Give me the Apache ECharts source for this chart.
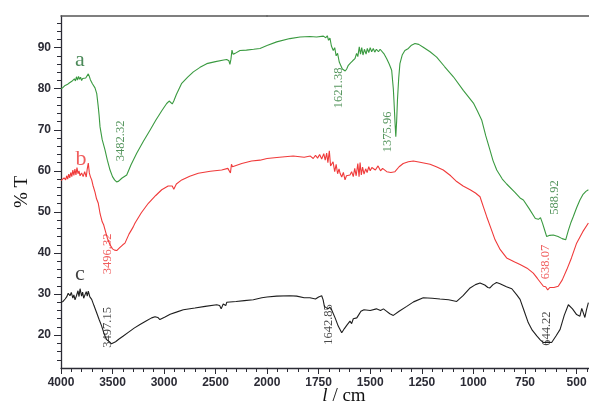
<!DOCTYPE html>
<html><head><meta charset="utf-8">
<script src="https://cdn.jsdelivr.net/npm/echarts@6/dist/echarts.min.js"></script>
<style>html,body{margin:0;padding:0;background:#fff}#c{width:589px;height:406px}</style>
</head><body><div id="c"></div>
<script>
// ---- data ----
const xTicksHigh = [4000, 3500, 3000, 2500, 2000];
const xTicksLow = [1750, 1500, 1250, 1000, 750, 500];
const yTicks = [20, 30, 40, 50, 60, 70, 80, 90];

const seriesA = [[4000,80.0],[3980,80.3],[3960,80.8],[3940,81.0],[3920,81.4],[3905,81.2],[3895,81.8],[3885,81.5],[3870,82.4],[3860,81.9],[3850,82.9],[3840,82.1],[3830,83.0],[3820,82.3],[3810,82.8],[3800,82.0],[3790,82.5],[3775,82.2],[3760,82.6],[3745,82.9],[3735,83.6],[3725,83.0],[3715,82.2],[3705,82.4],[3695,81.2],[3686,81.3],[3670,80.2],[3653,78.8],[3640,76.0],[3630,73.5],[3621,70.7],[3600,67.6],[3573,65.1],[3550,62.6],[3524,60.2],[3500,58.6],[3480,57.8],[3460,57.3],[3440,57.5],[3410,58.2],[3362,59.0],[3320,61.5],[3265,64.3],[3200,67.2],[3136,69.9],[3080,72.3],[3020,74.7],[2974,76.4],[2950,77.0],[2935,76.6],[2920,76.3],[2905,77.0],[2880,78.6],[2828,81.3],[2770,82.8],[2715,84.1],[2650,85.2],[2585,86.1],[2500,86.6],[2420,87.0],[2391,87.1],[2370,86.8],[2360,85.9],[2350,87.2],[2340,89.4],[2330,88.4],[2310,88.6],[2262,89.3],[2200,89.4],[2130,89.6],[2068,89.8],[2000,90.5],[1953,91.4],[1889,92.2],[1840,92.6],[1792,92.7],[1760,92.6],[1727,92.8],[1715,92.4],[1708,92.9],[1702,91.8],[1695,92.3],[1688,90.4],[1679,89.3],[1672,90.0],[1665,88.0],[1658,88.6],[1650,86.5],[1642,86.9],[1635,84.8],[1628,85.2],[1621,84.3],[1614,84.8],[1606,85.7],[1595,86.3],[1585,86.8],[1574,87.3],[1566,88.6],[1560,87.8],[1553,90.2],[1547,88.4],[1541,90.0],[1535,88.2],[1528,89.6],[1520,88.4],[1514,89.8],[1507,88.8],[1500,90.0],[1493,89.0],[1485,89.8],[1478,88.9],[1470,89.6],[1460,89.0],[1452,89.6],[1444,89.2],[1432,88.4],[1420,87.3],[1408,86.0],[1396,84.5],[1388,80.0],[1385,77.2],[1380,72.0],[1376,68.3],[1372,72.0],[1368,77.2],[1362,82.5],[1356,86.1],[1345,88.2],[1332,89.3],[1315,89.8],[1300,90.6],[1283,91.0],[1265,90.8],[1243,90.1],[1210,89.0],[1178,87.7],[1140,85.4],[1097,82.9],[1049,79.6],[1000,76.5],[980,74.5],[960,72.4],[940,68.5],[920,65.1],[905,62.5],[887,60.2],[860,58.0],[839,56.8],[800,54.8],[774,53.4],[758,52.9],[730,50.8],[700,48.4],[685,48.2],[675,48.6],[665,47.2],[655,45.6],[645,44.0],[630,44.3],[613,44.4],[590,44.0],[570,43.5],[553,43.2],[540,45.5],[527,47.5],[516,48.9],[500,51.0],[484,52.9],[470,54.2],[455,55.0],[443,55.4]];

const seriesB = [[4000,57.6],[3985,57.9],[3970,58.3],[3955,57.8],[3945,58.8],[3935,58.0],[3925,59.2],[3915,58.3],[3905,59.6],[3895,58.6],[3885,60.2],[3875,58.9],[3865,60.4],[3855,59.0],[3845,60.8],[3835,59.3],[3825,60.0],[3815,58.8],[3800,59.5],[3785,58.6],[3770,59.8],[3755,58.5],[3745,60.5],[3735,61.9],[3725,59.5],[3715,58.6],[3702,57.8],[3690,56.5],[3670,54.8],[3655,53.2],[3638,52.1],[3620,49.5],[3600,47.6],[3585,46.8],[3573,45.7],[3550,43.6],[3524,42.0],[3500,41.0],[3480,40.7],[3459,40.6],[3430,41.3],[3400,42.0],[3379,42.4],[3340,44.6],[3300,46.3],[3281,47.3],[3220,49.8],[3152,52.1],[3080,54.0],[3022,55.4],[2960,56.3],[2920,56.3],[2905,55.5],[2895,55.9],[2880,56.8],[2828,57.8],[2750,58.7],[2667,59.4],[2550,59.9],[2440,60.2],[2380,60.6],[2365,60.3],[2355,59.5],[2345,61.6],[2335,61.0],[2320,61.4],[2245,61.8],[2150,62.4],[2068,62.6],[2000,63.0],[1940,63.3],[1873,63.6],[1820,63.3],[1790,63.6],[1776,63.0],[1765,63.8],[1755,63.1],[1745,64.0],[1735,62.9],[1725,64.2],[1718,62.6],[1711,64.3],[1705,62.0],[1698,64.9],[1692,61.2],[1687,61.0],[1680,62.2],[1672,59.8],[1665,61.6],[1658,59.3],[1651,60.5],[1646,59.4],[1638,58.5],[1630,59.6],[1622,57.8],[1615,58.8],[1606,58.4],[1598,59.0],[1590,59.8],[1582,58.6],[1575,60.6],[1568,58.8],[1560,61.8],[1554,58.6],[1549,62.0],[1543,59.0],[1537,60.9],[1530,59.2],[1522,60.5],[1515,59.6],[1507,61.0],[1500,60.0],[1492,60.8],[1485,60.6],[1475,60.2],[1462,61.2],[1450,60.0],[1440,60.6],[1420,59.8],[1400,59.6],[1380,59.8],[1360,61.0],[1340,61.8],[1315,62.2],[1291,62.4],[1259,62.1],[1210,61.6],[1180,61.0],[1146,60.2],[1110,58.8],[1081,57.4],[1050,56.3],[1016,55.4],[990,54.6],[968,53.7],[950,51.0],[936,48.9],[915,46.0],[895,43.2],[870,40.8],[839,38.8],[800,37.8],[774,37.2],[740,36.3],[710,35.1],[690,33.8],[661,31.9],[650,31.8],[640,31.0],[630,31.6],[610,31.6],[589,31.9],[570,33.4],[548,35.9],[525,38.8],[500,42.4],[470,45.2],[443,47.3]];

const seriesC = [[4000,28.0],[3980,28.2],[3960,28.8],[3945,29.3],[3930,30.2],[3913,29.6],[3900,30.4],[3885,29.0],[3875,29.8],[3864,28.6],[3850,29.6],[3835,30.8],[3825,29.4],[3815,31.3],[3800,29.5],[3790,30.5],[3780,29.0],[3767,28.8],[3755,30.6],[3745,29.5],[3735,30.7],[3720,29.3],[3702,28.7],[3680,27.2],[3653,25.4],[3630,23.8],[3605,22.2],[3585,20.6],[3570,19.6],[3556,18.9],[3530,18.4],[3510,17.9],[3492,18.2],[3470,18.4],[3440,19.0],[3395,19.8],[3340,20.8],[3290,21.7],[3233,22.6],[3170,23.5],[3120,24.2],[3087,24.5],[3060,24.3],[3040,23.8],[3022,23.8],[2990,24.4],[2940,25.1],[2880,25.6],[2812,26.2],[2700,26.6],[2600,27.0],[2488,27.4],[2460,27.2],[2445,26.4],[2435,26.6],[2425,27.6],[2410,27.8],[2400,27.2],[2391,28.0],[2300,28.2],[2220,28.4],[2133,28.6],[2050,29.1],[2000,29.3],[1953,29.5],[1889,29.6],[1856,29.5],[1820,29.1],[1792,29.1],[1765,28.8],[1750,29.3],[1735,29.6],[1728,28.6],[1722,27.0],[1715,26.8],[1705,26.4],[1695,26.8],[1687,26.2],[1670,24.2],[1655,22.2],[1638,20.6],[1625,21.6],[1612,22.5],[1604,22.4],[1598,23.4],[1590,22.8],[1582,24.0],[1574,23.6],[1565,24.2],[1555,25.0],[1545,25.8],[1530,26.2],[1500,26.0],[1470,26.4],[1450,26.0],[1436,26.4],[1420,25.8],[1405,25.2],[1388,24.8],[1360,25.8],[1323,27.0],[1290,28.1],[1243,29.1],[1200,29.0],[1162,28.8],[1120,28.6],[1081,28.2],[1050,29.6],[1016,31.5],[990,32.3],[968,32.7],[945,32.2],[930,31.6],[920,31.5],[905,32.3],[888,32.8],[871,32.5],[840,31.8],[814,31.3],[790,29.8],[774,28.7],[755,26.0],[734,23.0],[715,21.2],[693,19.8],[675,18.8],[661,18.2],[640,18.3],[621,18.2],[600,19.8],[580,21.4],[560,24.8],[540,27.4],[520,26.4],[500,25.0],[484,24.6],[475,26.5],[468,26.5],[460,24.3],[452,26.2],[443,27.9]];

// peak annotations: [text, wavenumber, %T]
const peaksA = [["3482.32",3420,67.3],["1621.38",1651,80.2],["1375.96",1415,69.5],["588.92",605,53.5]];
const peaksB = [["3496.32",3550,39.8],["638.07",648,37.8]];
const peaksC = [["3497.15",3550,21.9],["1642.85",1703,22.6],["644.22",645,21.6]];
// curve letters: [text, wavenumber, %T]
const curveNames = [["a",3816,86.9],["b",3806,62.9],["c",3816,34.9]];

// ---- styling ----
const COL = {a:'#3a9a40', b:'#f03a3a', c:'#1e1e1e'};
const TXT = {a:'#2a7a35', b:'#ec3434', c:'#1a1a1a'};
const NAMECOL = ['#1e6b30', '#ec3434', '#111'];
const BREAK = 2000, XMIN = 440, XMAX = 4000, YMIN = 12, YMAX = 97.7;
const AX = '#2b2b35';

function split(d, hi) {
  const out = [];
  for (let i = 0; i < d.length; i++) {
    const w = d[i][0];
    const inside = hi ? w >= BREAK : w <= BREAK;
    const nb = hi ? (i > 0 && d[i-1][0] > BREAK) : (i < d.length-1 && d[i+1][0] < BREAK);
    if (inside || nb) out.push(d[i]);
  }
  return out;
}
const minorHigh = [], minorLow = [], minorY = [];
for (let v = 2100; v < 4000; v += 100) if (v % 500) minorHigh.push(v);
for (let v = 450; v < 2000; v += 50) if (v % 250) minorLow.push(v);
for (let v = 14; v < 97; v += 2) if (v % 10) minorY.push(v);

const labelFont = {fontFamily:'Liberation Sans', fontWeight:'bold', fontSize:12, color:AX,
  formatter:(v) => String(v)};
function majorX(grid, min, max, ticks) {
  return {gridIndex:grid, type:'value', min:min, max:max, inverse:true, position:'bottom',
    axisLine:{show:true, onZero:false, lineStyle:{color:AX, width:1.3}},
    axisTick:{show:true, inside:false, length:6, customValues:ticks, lineStyle:{color:AX, width:1}},
    axisLabel:Object.assign({show:true, margin:9, customValues:ticks}, labelFont),
    splitLine:{show:false}};
}
function minorX(grid, min, max, ticks) {
  return {gridIndex:grid, type:'value', min:min, max:max, inverse:true, position:'bottom',
    axisLine:{show:false, onZero:false}, axisLabel:{show:false}, splitLine:{show:false},
    axisTick:{show:true, length:4, customValues:ticks, lineStyle:{color:AX, width:1}}};
}
function topX(grid, min, max) {
  return {gridIndex:grid, type:'value', min:min, max:max, inverse:true, position:'top',
    axisLine:{show:true, onZero:false, lineStyle:{color:'#555', width:1.5}},
    axisTick:{show:false}, axisLabel:{show:false}, splitLine:{show:false}};
}

const series = [];
[['a',seriesA],['b',seriesB],['c',seriesC]].forEach(([k, d]) => {
  series.push({type:'line', xAxisIndex:0, yAxisIndex:0, data:split(d, true), showSymbol:false,
    lineStyle:{color:COL[k], width:1.1}, itemStyle:{color:COL[k]}, silent:true, clip:true});
  series.push({type:'line', xAxisIndex:3, yAxisIndex:2, data:split(d, false), showSymbol:false,
    lineStyle:{color:COL[k], width:1.1}, itemStyle:{color:COL[k]}, silent:true, clip:true});
});
const annHigh = [], annLow = [];
[['a',peaksA],['b',peaksB],['c',peaksC]].forEach(([k, arr]) => {
  arr.forEach(([t, w, v]) => {
    const item = {name:t, value:[w, v], label:{color:TXT[k]}};
    (w >= BREAK ? annHigh : annLow).push(item);
  });
});
const letters = curveNames.map(([t, w, v], i) => ({name:t, value:[w, v], label:{color:NAMECOL[i]}}));
const annLabel = {show:true, position:'inside', formatter:'{b}', rotate:90,
  fontFamily:'Liberation Serif', fontSize:12.5};
const hidden = {color:'rgba(0,0,0,0)', borderWidth:0};
series.push({type:'scatter', xAxisIndex:0, yAxisIndex:0, data:annHigh, symbolSize:2,
  itemStyle:hidden, label:annLabel, silent:true, z:5});
series.push({type:'scatter', xAxisIndex:3, yAxisIndex:2, data:annLow, symbolSize:2,
  itemStyle:hidden, label:annLabel, silent:true, z:5});
series.push({type:'scatter', xAxisIndex:0, yAxisIndex:0, data:letters, symbolSize:2,
  itemStyle:hidden, silent:true, z:5,
  label:{show:true, position:'inside', formatter:'{b}', fontFamily:'Liberation Serif', fontSize:22}});

const chart = echarts.init(document.getElementById('c'));
chart.setOption({
  animation:false,
  backgroundColor:'#fff',
  grid:[{left:61, top:16, width:206, height:352, outerBoundsMode:'none', containLabel:false},
        {left:267, top:16, width:322, height:352, outerBoundsMode:'none', containLabel:false}],
  xAxis:[majorX(0, BREAK, XMAX, xTicksHigh), minorX(0, BREAK, XMAX, minorHigh), topX(0, BREAK, XMAX),
         majorX(1, XMIN, BREAK, xTicksLow), minorX(1, XMIN, BREAK, minorLow), topX(1, XMIN, BREAK)],
  yAxis:[
    {gridIndex:0, type:'value', min:YMIN, max:YMAX, position:'left',
     axisLine:{show:true, lineStyle:{color:AX, width:1.3}},
     axisTick:{show:true, length:7, customValues:yTicks, lineStyle:{color:AX}},
     axisLabel:Object.assign({show:true, margin:10, customValues:yTicks}, labelFont),
     splitLine:{show:false},
     name:'% T', nameLocation:'middle', nameGap:29, nameRotate:90,
     nameTextStyle:{fontFamily:'Liberation Serif', fontSize:19, color:'#111'}},
    {gridIndex:0, type:'value', min:YMIN, max:YMAX, position:'left',
     axisLine:{show:false}, axisLabel:{show:false}, splitLine:{show:false},
     axisTick:{show:true, length:4, customValues:minorY, lineStyle:{color:AX}}},
    {gridIndex:1, type:'value', min:YMIN, max:YMAX, show:false}
  ],
  graphic:[{type:'text', x:344, y:396, silent:true,
    style:{text:'{i|l} / cm', textAlign:'center', textVerticalAlign:'middle',
      fontFamily:'Liberation Serif', fontSize:19, fill:'#111',
      rich:{i:{fontStyle:'italic', fontFamily:'Liberation Serif', fontSize:19, fill:'#111'}}}}],
  series:series
});
</script></body></html>
